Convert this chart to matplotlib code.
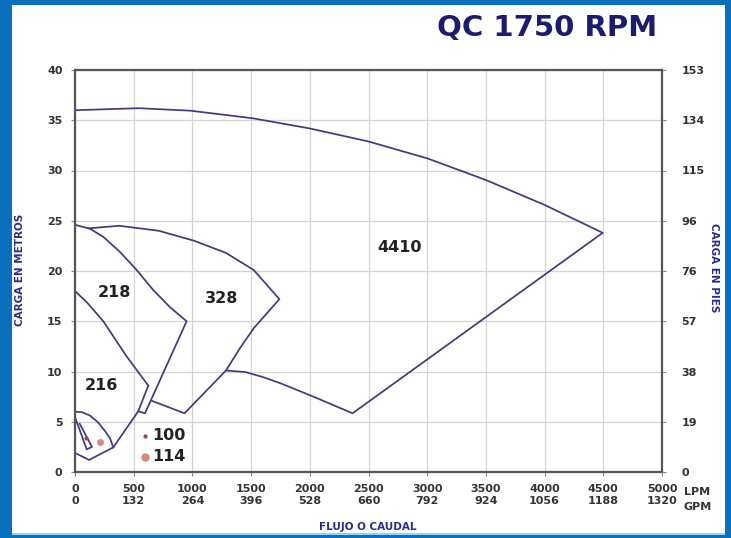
import matplotlib
matplotlib.use("Agg")
import matplotlib.pyplot as plt
from matplotlib.patches import Rectangle

# ---------------- data ----------------
lpm_ticks = [0, 500, 1000, 1500, 2000, 2500, 3000, 3500, 4000, 4500, 5000]
gpm_labels = ["0", "132", "264", "396", "528", "660", "792", "924", "1056", "1188", "1320"]
m_ticks = [0, 5, 10, 15, 20, 25, 30, 35, 40]
ft_labels = ["0", "19", "38", "57", "76", "96", "115", "134", "153"]

# model 4410 envelope (top curve, right edge, bottom curve)
c4410_x = [0, 545, 983, 1512, 1993, 2496, 3003, 3501, 3995, 4495, 2364, 2061, 1757, 1600, 1450, 1286]
c4410_y = [36.0, 36.2, 35.95, 35.2, 34.2, 32.9, 31.2, 29.05, 26.6, 23.8, 5.84, 7.35, 8.8, 9.45, 9.95, 10.1]

# model 328 envelope
c328_x = [120, 377, 714, 1017, 1286, 1522, 1741, 1522, 1404, 1286, 933, 650]
c328_y = [24.25, 24.5, 24.0, 23.0, 21.8, 20.1, 17.2, 14.3, 12.3, 10.1, 5.84, 7.1]

# model 218 envelope (top curve, right edge, bottom)
c218_x = [0, 128, 241, 383, 525, 667, 809, 951, 596, 539]
c218_y = [24.6, 24.2, 23.4, 21.9, 20.1, 18.1, 16.4, 15.0, 5.84, 6.05]
c218_low_x = [624, 440, 241, 100, 0]
c218_low_y = [8.6, 11.5, 15.0, 16.9, 18.0]

# model 216 right and bottom edge
c216_x = [624, 539, 326, 120, 0]
c216_y = [8.6, 6.05, 2.45, 1.2, 1.9]

# model 114 outer curve
c114_x = [0, 60, 130, 200, 260, 300, 326]
c114_y = [6.0, 5.95, 5.6, 4.9, 4.0, 3.3, 2.45]

# model 100 inner shape
c100_x = [5, 100, 145, 40]
c100_y = [5.3, 2.25, 2.5, 4.8]

# operating points
pt100 = (90, 3.4)
pt114 = (215, 3.0)

# region labels
region_names = ["4410", "328", "218", "216"]
region_x = [2768, 1252, 336, 221]
region_y = [22.3, 17.3, 17.9, 8.6]

legend_names = ["100", "114"]
legend_x = [600, 600]
legend_y = [3.6, 1.5]

# ---------------- figure ----------------
W, H = 731, 538
fig = plt.figure(figsize=(W / 100, H / 100), dpi=100)
fig.patch.set_facecolor("#0a6fbd")
fig.patches.append(Rectangle((12 / W, 5 / H), (725 - 12) / W, (533 - 5) / H,
                             transform=fig.transFigure, facecolor="white",
                             edgecolor="none", zorder=-10))
fig.patches.append(Rectangle((12 / W, 3 / H), (725 - 12) / W, 2.5 / H,
                             transform=fig.transFigure, facecolor="#8fd6f0",
                             edgecolor="none", zorder=-10))

ax = fig.add_axes([75 / W, 1 - 472 / H, (662 - 75) / W, (472 - 70) / H])
ax.set_xlim(0, 5000)
ax.set_ylim(0, 40)
ax.set_facecolor("white")

line_c = "#3c3c80"
lw = 1.25
ax.plot(c4410_x, c4410_y, color=line_c, lw=lw)
ax.plot(c328_x, c328_y, color=line_c, lw=lw)
ax.plot(c218_x, c218_y, color=line_c, lw=lw)
ax.plot(c218_low_x, c218_low_y, color=line_c, lw=lw)
ax.plot(c216_x, c216_y, color=line_c, lw=lw)
ax.plot(c114_x, c114_y, color=line_c, lw=lw)
ax.plot(c100_x, c100_y, color=line_c, lw=lw)

ax.plot(*pt100, "o", color="#b8403a", ms=3, mec="none")
ax.plot(*pt114, "o", color="#d98880", ms=5, mec="none")
ax.plot(legend_x[0], legend_y[0], "o", color="#a0403a", ms=3, mec="none")
ax.plot(legend_x[1], legend_y[1], "o", color="#d98880", ms=6, mec="none")
for name, x, y in zip(legend_names, legend_x, legend_y):
    ax.text(x + 55, y, name, fontsize=11.5, fontweight="bold", color="#222222",
            ha="left", va="center")

for name, x, y in zip(region_names, region_x, region_y):
    ax.text(x, y, name, fontsize=11.5, fontweight="bold", color="#222222",
            ha="center", va="center")

# grid & spines
ax.set_xticks(lpm_ticks)
ax.set_yticks(m_ticks)
ax.grid(True, color="#d4d4d4", lw=0.9)
ax.set_axisbelow(True)
for s in ax.spines.values():
    s.set_color("#555555")
    s.set_linewidth(1.6)

tick_font = dict(fontsize=8, fontweight="bold", color="#333333")
ax.set_xticklabels([f"{a}\n{b}" for a, b in zip(lpm_ticks, gpm_labels)],
                   linespacing=1.15, **tick_font)
ax.set_yticklabels([str(v) for v in m_ticks], **tick_font)
ax.tick_params(axis="both", length=3, color="#888888", pad=6)

ax2 = ax.twinx()
ax2.set_ylim(0, 40)
ax2.set_yticks(m_ticks)
ax2.set_yticklabels(ft_labels, **tick_font)
ax2.tick_params(axis="y", length=3, color="#888888", pad=11)
for s in ax2.spines.values():
    s.set_visible(False)

fig.text(684 / W, 1 - 492 / H, "LPM", ha="left", va="center", **tick_font)
fig.text(684 / W, 1 - 507 / H, "GPM", ha="left", va="center", **tick_font)

lab_font = dict(fontsize=7.5, fontweight="bold", color="#2b2b8a")
fig.text(20 / W, 1 - 270 / H, "CARGA EN METROS", rotation=90, ha="center", va="center", **lab_font)
fig.text(714 / W, 1 - 268 / H, "CARGA EN PIES", rotation=270, ha="center", va="center", **lab_font)
fig.text(368 / W, 1 - 527 / H, "FLUJO O CAUDAL", ha="center", va="center", **lab_font)

fig.text(657 / W, 1 - 28 / H, "QC 1750 RPM", ha="right", va="center",
         fontsize=21, fontweight="bold", color="#1c1c6e")

fig.savefig("out.png", dpi=100, facecolor=fig.get_facecolor())
